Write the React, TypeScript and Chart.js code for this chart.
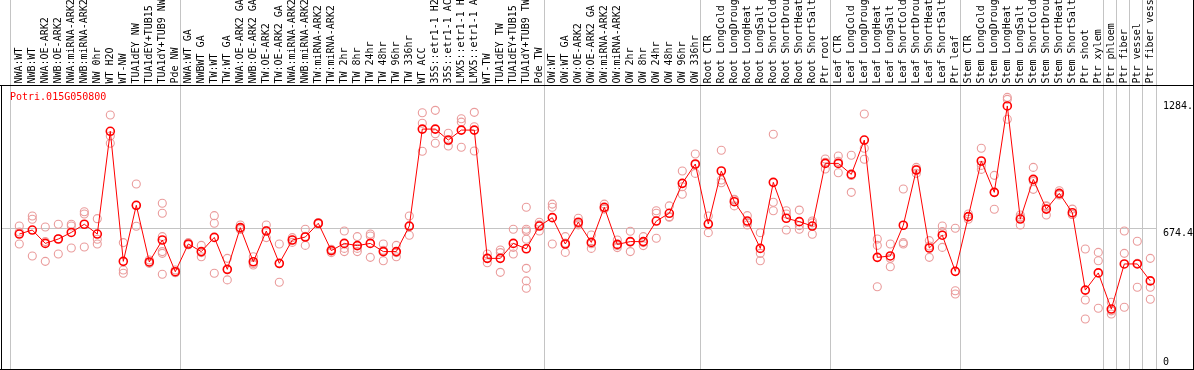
import React, { useEffect, useRef } from 'react';
import { Chart, registerables } from 'chart.js';

Chart.register(...registerables);

const geneId = 'Potri.015G050800';

const categories = [
  'NWA:WT', 'NWB:WT', 'NWA:OE-ARK2', 'NWB:OE-ARK2', 'NWA:miRNA-ARK2', 'NWB:miRNA-ARK2',
  'NW 0hr', 'WT H2O', 'WT-NW', 'TUA1dEY NW', 'TUA1dEY+TUB15', 'TUA1dY+TUB9 NW', 'Pde NW',
  'NWA:WT GA', 'NWBWT GA', 'TW:WT', 'TW:WT GA', 'NWA:OE-ARK2 GA', 'NWB:OE-ARK2 GA',
  'TW:OE-ARK2', 'TW:OE-ARK2 GA', 'NWA:miRNA-ARK2', 'NWB:miRNA-ARK2', 'TW:miRNA-ARK2',
  'TW:miRNA-ARK2', 'TW 2hr', 'TW 8hr', 'TW 24hr', 'TW 48hr', 'TW 96hr', 'TW 336hr',
  'WT ACC', '35S::etr1-1 H2', '35S::etr1-1 AC', 'LMX5::etr1-1 H', 'LMX5::etr1-1 A',
  'WT-TW', 'TUA1dEY TW', 'TUA1dEY+TUB15', 'TUA1dY+TUB9 TW', 'Pde TW',
  'OW:WT', 'OW:WT GA', 'OW:OE-ARK2', 'OW:OE-ARK2 GA', 'OW:miRNA-ARK2', 'OW:miRNA-ARK2',
  'OW 2hr', 'OW 8hr', 'OW 24hr', 'OW 48hr', 'OW 96hr', 'OW 336hr',
  'Root CTR', 'Root LongCold', 'Root LongDroug', 'Root LongHeat', 'Root LongSalt',
  'Root ShortCold', 'Root ShortDrou', 'Root ShortHeat', 'Root ShortSalt', 'Ptr root',
  'Leaf CTR', 'Leaf LongCold', 'Leaf LongDroug', 'Leaf LongHeat', 'Leaf LongSalt',
  'Leaf ShortCold', 'Leaf ShortDrou', 'Leaf ShortHeat', 'Leaf ShortSalt', 'Ptr leaf',
  'Stem CTR', 'Stem LongCold', 'Stem LongDroug', 'Stem LongHeat', 'Stem LongSalt',
  'Stem ShortCold', 'Stem ShortDrou', 'Stem ShortHeat', 'Stem ShortSalt', 'Ptr shoot',
  'Ptr xylem', 'Ptr phloem', 'Ptr fiber', 'Ptr vessel', 'Ptr fiber vess',
];

const meanValues = [
  644, 664, 597, 619, 652, 693, 644, 1159, 507, 788, 504, 614, 455,
  594, 556, 627, 467, 676, 505, 659, 497, 614, 629, 698, 561, 597, 586, 597, 556, 556, 684,
  1170, 1170, 1115, 1165, 1165, 522, 522, 597, 570, 684,
  726, 594, 703, 602, 778, 592, 606, 606, 709, 748, 898, 995,
  694, 960, 806, 709, 572, 903, 723, 706, 684, 998,
  998, 943, 1115, 527, 534, 688, 965, 574, 638, 457,
  731, 1010, 853, 1286, 719, 918, 769, 848, 751, 363, 449,
  268, 494, 494, 409,
];

const replicateValues = [
  [684, 654, 594], [734, 718, 534], [679, 606, 507], [693, 620, 544], [693, 684, 574],
  [756, 744, 579], [721, 618, 594], [1241, 1135, 1099], [601, 464, 447], [895, 786, 683],
  [514, 501, 497], [798, 748, 631, 556, 547, 442], [464, 451, 450],
  [601, 591, 590], [587, 551, 530], [736, 698, 447], [522, 465, 414], [689, 672, 667],
  [530, 496, 489], [689, 662, 626], [594, 495, 402], [626, 614, 602], [668, 632, 587],
  [702, 698, 694], [567, 565, 551], [659, 572, 556], [631, 572, 556], [644, 634, 527],
  [594, 563, 510], [587, 551, 530], [734, 681, 638], [1252, 1199, 1059], [1264, 1147, 1099],
  [1149, 1112, 1085], [1222, 1205, 1079], [1254, 1182, 1060], [544, 522, 500],
  [564, 551, 452], [668, 577, 544], [778, 668, 659, 618, 472, 409, 372], [703, 690, 659],
  [794, 778, 594], [631, 599, 552], [723, 696, 690], [639, 595, 572], [794, 770, 770],
  [614, 586, 576], [658, 604, 556], [631, 601, 586], [761, 748, 623], [785, 731, 728],
  [960, 881, 843], [1045, 992, 948],
  [734, 697, 651], [1064, 915, 901], [818, 815, 785], [736, 702, 689], [651, 547, 510],
  [1144, 803, 761], [761, 744, 664], [764, 686, 668], [709, 700, 643], [1020, 1004, 970],
  [1035, 1008, 951], [1039, 937, 853], [1246, 1074, 1019], [619, 587, 380], [594, 522, 480],
  [870, 601, 594], [978, 969, 948], [611, 584, 527], [684, 656, 577], [673, 360, 343],
  [744, 731, 718], [1074, 988, 968], [938, 853, 768], [1329, 1319, 1219], [739, 729, 689],
  [978, 908, 868], [786, 782, 739], [861, 843, 840], [769, 742, 742], [569, 313, 218],
  [552, 510, 272], [302, 259, 243], [659, 547, 277], [608, 497, 377], [522, 377, 317],
];

// group boundaries, in category units (after the n-th category)
const groupBoundaries = [0.28, 13.36, 41.38, 53.36, 63.36, 73.36, 84.36, 85.36, 86.36, 87.36, 88.42];

const yTickValues = [1284, 674.4, 0];
const yTickLabels = ['1284.', '674.4', '0'];
const referenceLineValue = 674.4;

const FONT = '10px "DejaVu Sans Mono", "Liberation Mono", monospace';
const RED = '#ff0000';
const PINK = '#ea9c9c';
const GRID = '#c4c4c4';

const decorPlugin = {
  id: 'decor',
  beforeDraw(chart: any) {
    const { ctx, width, height } = chart;
    ctx.save();
    ctx.fillStyle = '#ffffff';
    ctx.fillRect(0, 0, width, height);
    ctx.restore();
  },
  beforeDatasetsDraw(chart: any) {
    const { ctx, chartArea, scales } = chart;
    const xs = scales.x;
    const ys = scales.y;
    ctx.save();
    ctx.fillStyle = GRID;
    groupBoundaries.forEach((b) => {
      const px = Math.round(xs.getPixelForValue(b));
      ctx.fillRect(px, 0, 1, chartArea.bottom);
    });
    const py = Math.round(ys.getPixelForValue(referenceLineValue));
    ctx.fillRect(chartArea.left, py, Math.round(xs.getPixelForValue(groupBoundaries[groupBoundaries.length - 1])) - chartArea.left, 1);
    ctx.restore();
  },
  afterDraw(chart: any) {
    const { ctx, chartArea, scales, width, height } = chart;
    const xs = scales.x;
    const ys = scales.y;
    ctx.save();
    // borders
    ctx.fillStyle = '#000000';
    ctx.fillRect(0, chartArea.top - 1, width, 1);
    ctx.fillRect(chartArea.left, chartArea.top - 1, 1, chartArea.bottom - chartArea.top + 1);
    ctx.fillRect(0, chartArea.bottom, width, 1);
    ctx.fillRect(width - 1, 0, 1, height);

    // category labels, rotated
    ctx.font = FONT;
    ctx.fillStyle = '#000000';
    ctx.textAlign = 'left';
    ctx.textBaseline = 'middle';
    categories.forEach((label, i) => {
      const px = xs.getPixelForValue(i + 1);
      ctx.save();
      ctx.translate(px, chartArea.top - 2.5);
      ctx.rotate(-Math.PI / 2);
      ctx.fillText(label, 0, 0);
      ctx.restore();
    });

    // gene title
    ctx.fillStyle = RED;
    ctx.textBaseline = 'middle';
    ctx.fillText(geneId, 10, chartArea.top + 11);

    // y tick labels on the right
    ctx.fillStyle = '#000000';
    const tx = chartArea.right + 6;
    yTickValues.forEach((v, i) => {
      let py = ys.getPixelForValue(v);
      if (v === referenceLineValue) {
        ctx.textBaseline = 'top';
        py += 0.5;
      } else {
        ctx.textBaseline = 'middle';
        py = Math.min(py, chartArea.bottom - 7);
      }
      ctx.fillText(yTickLabels[i], tx, py);
    });
    ctx.restore();
  },
};

export default function App() {
  const canvasRef = useRef<HTMLCanvasElement | null>(null);

  useEffect(() => {
    const canvas = canvasRef.current;
    if (!canvas) return;
    const repPoints: { x: number; y: number }[] = [];
    replicateValues.forEach((arr, i) => {
      arr.forEach((v) => repPoints.push({ x: i + 1, y: v }));
    });
    const meanPoints = meanValues.map((v, i) => ({ x: i + 1, y: v }));

    const chart = new Chart(canvas, {
      type: 'line',
      data: {
        datasets: [
          {
            label: 'mean',
            data: meanPoints,
            order: 0,
            borderColor: RED,
            borderWidth: 1,
            tension: 0,
            pointRadius: 4,
            pointBorderWidth: 1.6,
            pointBorderColor: RED,
            pointBackgroundColor: 'rgba(0,0,0,0)',
            fill: false,
          },
          {
            label: 'replicates',
            data: repPoints,
            order: 1,
            showLine: false,
            pointRadius: 4,
            pointBorderWidth: 1.1,
            pointBorderColor: PINK,
            pointBackgroundColor: 'rgba(0,0,0,0)',
            borderColor: PINK,
          },
        ],
      },
      options: {
        animation: false,
        responsive: false,
        devicePixelRatio: 1,
        events: [],
        layout: { autoPadding: false, padding: { left: 1, right: 37, top: 86, bottom: 1 } },
        plugins: { legend: { display: false }, tooltip: { enabled: false }, title: { display: false } },
        scales: {
          x: { type: 'linear', display: false, min: -0.4077, max: 88.515 },
          y: { type: 'linear', display: false, min: -32.6, max: 1386 },
        },
      },
      plugins: [decorPlugin],
    });
    return () => chart.destroy();
  }, []);

  return (
    <div style={{ position: 'absolute', left: 0, top: 0, width: 1194, height: 370 }}>
      <canvas ref={canvasRef} width={1194} height={370} style={{ display: 'block', width: 1194, height: 370 }} />
    </div>
  );
}
